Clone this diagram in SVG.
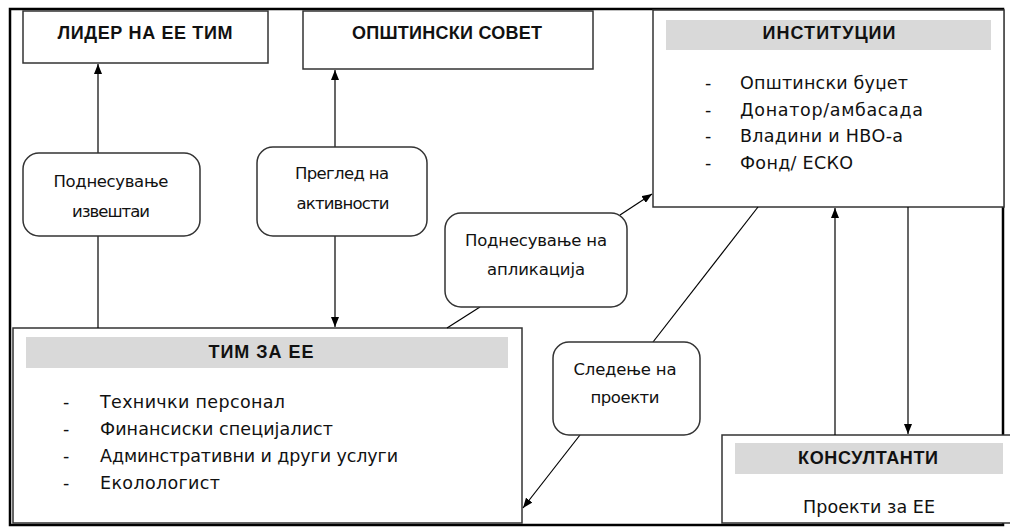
<svg xmlns="http://www.w3.org/2000/svg" width="1010" height="530" viewBox="0 0 1010 530">
<defs>
<marker id="ah" markerWidth="10" markerHeight="8" refX="10" refY="4" orient="auto" markerUnits="userSpaceOnUse">
<path d="M0,0 L10,4 L0,8 z" fill="#000"/>
</marker>
<style>
.box{fill:#fff;stroke:#333;stroke-width:1.5}
.hdr{fill:#d9d9d9}
.bub{fill:#fff;stroke:#333;stroke-width:1.5}
.ln{fill:none;stroke:#000;stroke-width:1.2}
.h{font-family:"Liberation Sans",Arial,sans-serif;font-weight:bold;font-size:18px;fill:#111;text-anchor:middle}
.t{font-family:"DejaVu Sans",Verdana,sans-serif;font-size:17.5px;fill:#111}
.s{font-size:16.5px}
.c{text-anchor:middle}
</style>
</defs>
<rect width="1010" height="530" fill="#fff"/>
<rect x="10" y="9" width="993" height="516" fill="none" stroke="#000" stroke-width="2.5"/>

<g id="leader">
<rect class="box" x="23" y="11" width="245" height="52"/>
<text class="h" x="145" y="39" textLength="175" lengthAdjust="spacing">ЛИДЕР НА ЕЕ ТИМ</text>
</g>
<g id="council">
<rect class="box" x="303" y="11" width="290" height="58"/>
<text class="h" x="447" y="39" textLength="190" lengthAdjust="spacing">ОПШТИНСКИ СОВЕТ</text>
</g>
<g id="institutions">
<rect class="box" x="653" y="10" width="351" height="197"/>
<rect class="hdr" x="666" y="20" width="325" height="30"/>
<text class="h" x="829" y="39" textLength="133" lengthAdjust="spacing">ИНСТИТУЦИИ</text>
<text class="t" x="705" y="89">-</text>
<text class="t" x="740" y="89" textLength="168" lengthAdjust="spacing">Општински буџет</text>
<text class="t" x="705" y="115.5">-</text>
<text class="t" x="740" y="115.5" textLength="183" lengthAdjust="spacing">Донатор/амбасада</text>
<text class="t" x="705" y="142">-</text>
<text class="t" x="740" y="142" textLength="163" lengthAdjust="spacing">Владини и НВО-а</text>
<text class="t" x="705" y="168.5">-</text>
<text class="t" x="740" y="168.5" textLength="113" lengthAdjust="spacing">Фонд/ ЕСКО</text>
</g>
<g id="team">
<rect class="box" x="13" y="328" width="509" height="195"/>
<rect class="hdr" x="26" y="337" width="482" height="31"/>
<text class="h" x="261" y="358" textLength="105" lengthAdjust="spacing">ТИМ ЗА ЕЕ</text>
<text class="t" x="63" y="408">-</text>
<text class="t" x="100" y="408" textLength="185" lengthAdjust="spacing">Технички персонал</text>
<text class="t" x="63" y="435">-</text>
<text class="t" x="100" y="435" textLength="233" lengthAdjust="spacing">Финансиски специјалист</text>
<text class="t" x="63" y="462">-</text>
<text class="t" x="100" y="462" textLength="298" lengthAdjust="spacing">Админстративни и други услуги</text>
<text class="t" x="63" y="489">-</text>
<text class="t" x="100" y="489" textLength="120" lengthAdjust="spacing">Еколологист</text>
</g>
<g id="consultants">
<rect class="box" x="722" y="435" width="290" height="88"/>
<rect class="hdr" x="735" y="443" width="268" height="31"/>
<text class="h" x="868" y="464" textLength="140" lengthAdjust="spacing">КОНСУЛТАНТИ</text>
<text class="t c" x="869" y="513" textLength="132" lengthAdjust="spacing">Проекти за ЕЕ</text>
</g>

<g id="connectors">
<line class="ln" x1="98" y1="153" x2="98" y2="64" marker-end="url(#ah)"/>
<line class="ln" x1="98" y1="328" x2="98" y2="236"/>
<line class="ln" x1="335" y1="147" x2="335" y2="70" marker-end="url(#ah)"/>
<line class="ln" x1="335" y1="236" x2="335" y2="327" marker-end="url(#ah)"/>
<line class="ln" x1="447" y1="328" x2="480" y2="307"/>
<line class="ln" x1="620" y1="215" x2="652" y2="194" marker-end="url(#ah)"/>
<line class="ln" x1="758" y1="207" x2="653" y2="342"/>
<line class="ln" x1="580" y1="435" x2="523" y2="508" marker-end="url(#ah)"/>
<line class="ln" x1="835" y1="435" x2="835" y2="208" marker-end="url(#ah)"/>
<line class="ln" x1="908" y1="207" x2="908" y2="434" marker-end="url(#ah)"/>
</g>

<g id="lbl-reports">
<rect class="bub" x="23" y="153" width="177" height="83" rx="16"/>
<text class="t s c" x="111" y="187" textLength="115" lengthAdjust="spacing">Поднесување</text>
<text class="t s c" x="111" y="217" textLength="78" lengthAdjust="spacing">извештаи</text>
</g>
<g id="lbl-review">
<rect class="bub" x="257" y="147" width="170" height="89" rx="16"/>
<text class="t s c" x="342" y="179" textLength="94" lengthAdjust="spacing">Преглед на</text>
<text class="t s c" x="343" y="209" textLength="93" lengthAdjust="spacing">активности</text>
</g>
<g id="lbl-application">
<rect class="bub" x="445" y="213" width="182" height="94" rx="16"/>
<text class="t s c" x="536" y="246" textLength="142" lengthAdjust="spacing">Поднесување на</text>
<text class="t s c" x="536" y="275" textLength="98" lengthAdjust="spacing">апликација</text>
</g>
<g id="lbl-monitoring">
<rect class="bub" x="553" y="342" width="147" height="93" rx="16"/>
<text class="t s c" x="625" y="375" textLength="103" lengthAdjust="spacing">Следење на</text>
<text class="t s c" x="625" y="403" textLength="69" lengthAdjust="spacing">проекти</text>
</g>
</svg>
